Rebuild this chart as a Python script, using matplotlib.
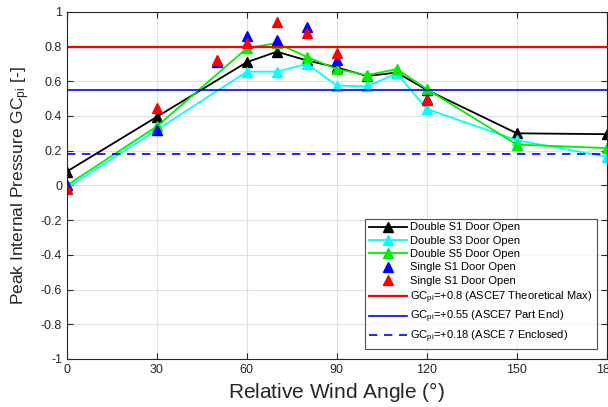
import matplotlib
matplotlib.use("Agg")
import matplotlib.pyplot as plt

plt.rcParams["font.family"] = ["Liberation Sans", "DejaVu Sans"]
plt.rcParams["mathtext.fontset"] = "custom"
plt.rcParams["mathtext.rm"] = "Liberation Sans"
plt.rcParams["mathtext.it"] = "Liberation Sans"

# ------------------------------------------------------
# Data
# ------------------------------------------------------
angles = [0, 30, 60, 70, 80, 90, 100, 110, 120, 150, 180]
double_s1 = [0.08, 0.395, 0.71, 0.77, 0.72, 0.68, 0.63, 0.65, 0.55, 0.30, 0.295]
double_s3 = [-0.015, 0.32, 0.655, 0.655, 0.70, 0.575, 0.57, 0.645, 0.44, 0.26, 0.165]
double_s5 = [0.0, 0.34, 0.79, 0.82, 0.74, 0.67, 0.635, 0.67, 0.555, 0.235, 0.215]

single_angles = [0, 30, 50, 60, 70, 80, 90, 120]
single_blue = [0.0, 0.32, 0.71, 0.86, 0.84, 0.91, 0.72, 0.50]
single_red = [-0.02, 0.445, 0.72, 0.82, 0.94, 0.88, 0.76, 0.49]

gc_max, gc_part, gc_encl = 0.8, 0.55, 0.18

x_ticks = [0, 30, 60, 90, 120, 150, 180]
y_ticks = [-1, -0.8, -0.6, -0.4, -0.2, 0, 0.2, 0.4, 0.6, 0.8, 1]
y_labels = ["-1", "-0.8", "-0.6", "-0.4", "-0.2", "0", "0.2", "0.4", "0.6", "0.8", "1"]

# ------------------------------------------------------
# Plot
# ------------------------------------------------------
fig = plt.figure(figsize=(6.08, 4.07), dpi=100)
ax = fig.add_axes([0.110, 0.118, 0.888, 0.853])

ms = 7
ax.plot(angles, double_s1, "-^", color="black", lw=1.3, ms=ms, label="Double S1 Door Open")
ax.plot(angles, double_s3, "-^", color="cyan", lw=1.3, ms=ms, label="Double S3 Door Open")
ax.plot(angles, double_s5, "-^", color="#00ee00", lw=1.3, ms=ms, label="Double S5 Door Open")
ax.plot(single_angles, single_blue, "^", color="blue", ms=ms, ls="none", label="Single S1 Door Open")
ax.plot(single_angles, single_red, "^", color="red", ms=ms, ls="none", label="Single S1 Door Open")

ax.axhline(gc_max, color="red", lw=1.6, label=r"GC$_{pi}$=+0.8 (ASCE7 Theoretical Max)")
ax.axhline(gc_part, color="blue", lw=1.2, label=r"GC$_{pi}$=+0.55 (ASCE7 Part Encl)")
ax.axhline(gc_encl, color="blue", lw=1.2, ls=(0, (5, 4)), label=r"GC$_{pi}$=+0.18 (ASCE 7 Enclosed)")

ax.set_xlim(0, 180)
ax.set_ylim(-1, 1)
ax.set_xticks(x_ticks)
ax.set_yticks(y_ticks)
ax.set_yticklabels(y_labels)
ax.grid(True, color="#e0e0e0", lw=0.8)
ax.set_axisbelow(True)
ax.tick_params(direction="in", labelsize=9, colors="#262626", length=4, top=True, right=True)
for s in ax.spines.values():
    s.set_color("#262626")
    s.set_linewidth(0.8)

ax.set_xlabel("Relative Wind Angle ($\\degree$)", fontsize=15, color="#262626", labelpad=3)
ax.set_ylabel("Peak Internal Pressure GC$_{pi}$ [-]", fontsize=12.5, color="#262626", labelpad=6)

leg = ax.legend(loc="lower right", fontsize=8, frameon=True, fancybox=False,
                edgecolor="#262626", borderpad=0.35, labelspacing=0.3,
                handlelength=3.4, handletextpad=0.3, borderaxespad=0,
                bbox_to_anchor=(0.981, 0.029))
leg.get_frame().set_linewidth(0.8)

fig.savefig("out.png", dpi=100)
